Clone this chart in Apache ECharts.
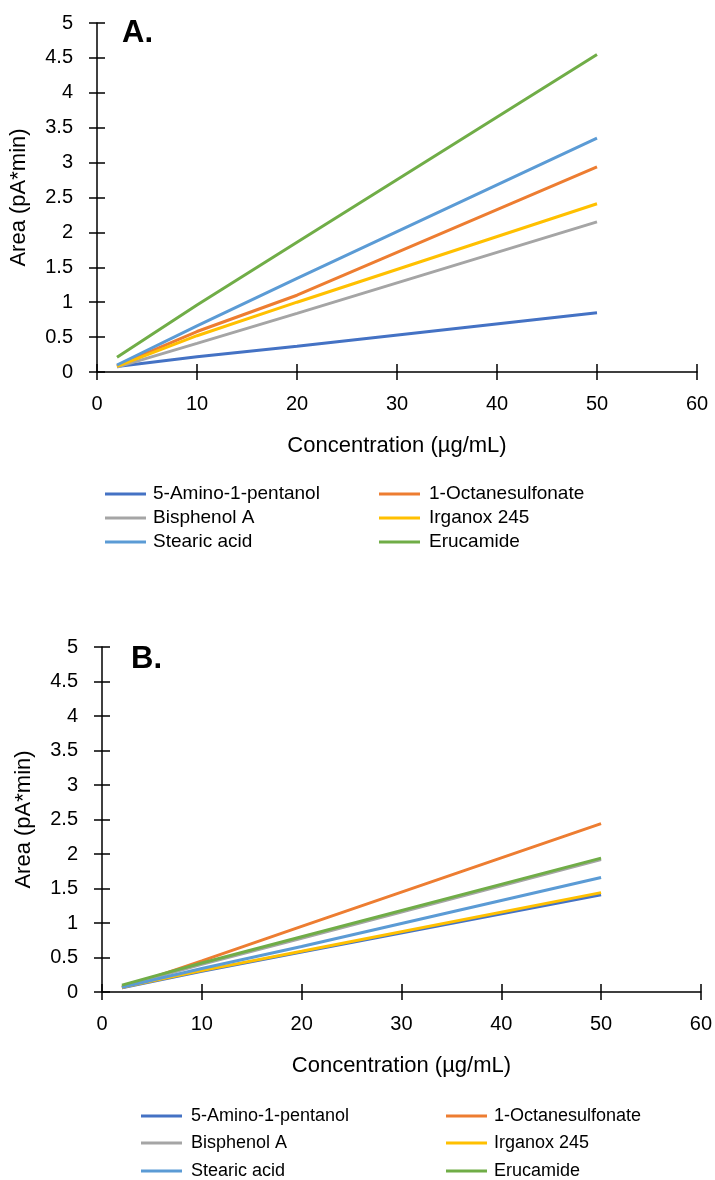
<!DOCTYPE html>
<html>
<head>
<meta charset="utf-8">
<script src="https://cdn.jsdelivr.net/npm/echarts@6/dist/echarts.min.js"></script>
<style>
  html, body { margin: 0; padding: 0; background: #fff; }
  #main { width: 715px; height: 1180px; }
</style>
</head>
<body>
<div id="main"></div>
<script>
// concentrations (µg/mL)
var conc = [2, 10, 20, 50];

var names = ['5-Amino-1-pentanol', '1-Octanesulfonate', 'Bisphenol A', 'Irganox 245', 'Stearic acid', 'Erucamide'];
var colors = ['#4472C4', '#ED7D31', '#A5A5A5', '#FFC000', '#5B9BD5', '#70AD47'];

// panel A
var aminoA = [0.08, 0.22, 0.37, 0.85];
var octaneA = [0.09, 0.58, 1.10, 2.94];
var bisphenolA = [0.07, 0.41, 0.84, 2.15];
var irganoxA = [0.08, 0.52, 1.00, 2.41];
var stearicA = [0.10, 0.66, 1.34, 3.35];
var erucamideA = [0.21, 0.96, 1.86, 4.55];

// panel B
var aminoB = [0.06, 0.30, 0.58, 1.41];
var octaneB = [0.06, 0.45, 0.95, 2.44];
var bisphenolB = [0.08, 0.40, 0.78, 1.92];
var irganoxB = [0.07, 0.31, 0.59, 1.44];
var stearicB = [0.07, 0.34, 0.66, 1.66];
var erucamideB = [0.10, 0.42, 0.80, 1.94];

var yTicks = [0, 5, 0.5];  // min, max, step
var xTicks = [0, 60, 10];

var FONT = 'Liberation Sans';
var chart = echarts.init(document.getElementById('main'));

function pairs(ys) {
  return conc.map(function (x, i) { return [x, ys[i]]; });
}

var tickStyle = { color: '#000', width: 1.5 };

// main axis + an extra one that only draws the inner half of the tick marks
function xAxes(grid) {
  return [{
    type: 'value', gridIndex: grid, position: 'bottom',
    min: xTicks[0], max: xTicks[1], interval: xTicks[2],
    name: 'Concentration (µg/mL)', nameLocation: 'middle', nameGap: 63,
    nameTextStyle: { fontFamily: FONT, fontSize: 22, color: '#000' },
    axisLine: { onZero: false, lineStyle: { color: '#000', width: 1.5 } },
    axisTick: { show: true, length: 8, lineStyle: tickStyle },
    axisLabel: { fontFamily: FONT, fontSize: 20, color: '#000', margin: 22 },
    splitLine: { show: false }
  }, {
    type: 'value', gridIndex: grid, position: 'bottom',
    min: xTicks[0], max: xTicks[1], interval: xTicks[2],
    axisLine: { show: true, onZero: false, lineStyle: { color: 'rgba(0,0,0,0)' } },
    axisTick: { show: true, inside: true, length: 8, lineStyle: tickStyle },
    axisLabel: { show: false }, splitLine: { show: false }
  }];
}

function yAxes(grid) {
  return [{
    type: 'value', gridIndex: grid, position: 'left',
    min: yTicks[0], max: yTicks[1], interval: yTicks[2],
    name: 'Area (pA*min)', nameLocation: 'middle', nameGap: 67, nameRotate: 90,
    nameTextStyle: { fontFamily: FONT, fontSize: 22, color: '#000' },
    axisLine: { show: true, onZero: false, lineStyle: { color: '#000', width: 1.5 } },
    axisTick: { show: true, length: 8, lineStyle: tickStyle },
    axisLabel: { fontFamily: FONT, fontSize: 20, color: '#000', margin: 24 },
    splitLine: { show: false }
  }, {
    type: 'value', gridIndex: grid, position: 'left',
    min: yTicks[0], max: yTicks[1], interval: yTicks[2],
    axisLine: { show: true, onZero: false, lineStyle: { color: 'rgba(0,0,0,0)' } },
    axisTick: { show: true, inside: true, length: 8, lineStyle: tickStyle },
    axisLabel: { show: false }, splitLine: { show: false }
  }];
}

function lineSeries(data, axisIdx) {
  return data.map(function (ys, i) {
    return {
      name: names[i], type: 'line', xAxisIndex: axisIdx, yAxisIndex: axisIdx,
      data: pairs(ys), symbol: 'none', silent: true,
      lineStyle: { width: 3, color: colors[i] }, itemStyle: { color: colors[i] }
    };
  });
}

// one legend per entry so every row sits where the reference puts it
function legendItem(name, left, midY, textGap, size) {
  return {
    data: [name], left: left, top: midY - 10, padding: 0,
    icon: 'rect', itemWidth: 41, itemHeight: 3,
    textStyle: { fontFamily: FONT, fontSize: size, color: '#000', lineHeight: 20, padding: [0, 0, 0, textGap] },
    selectedMode: false
  };
}

var seriesA = lineSeries([aminoA, octaneA, bisphenolA, irganoxA, stearicA, erucamideA], 0);
var seriesB = lineSeries([aminoB, octaneB, bisphenolB, irganoxB, stearicB, erucamideB], 2);

chart.setOption({
  animation: false,
  color: colors,
  grid: [
    { left: 97, width: 600, top: 23, height: 349 },
    { left: 102, width: 600, top: 647, height: 345 }
  ],
  xAxis: xAxes(0).concat(xAxes(1)),
  yAxis: yAxes(0).concat(yAxes(1)),
  legend: [
    legendItem(names[0], 105, 494, 2, 19),
    legendItem(names[2], 105, 518, 2, 19),
    legendItem(names[4], 105, 542, 2, 19),
    legendItem(names[1], 379, 494, 4, 19),
    legendItem(names[3], 379, 518, 4, 19),
    legendItem(names[5], 379, 542, 4, 19),
    legendItem(names[0], 141, 1116, 4, 18),
    legendItem(names[2], 141, 1143, 4, 18),
    legendItem(names[4], 141, 1171, 4, 18),
    legendItem(names[1], 446, 1116, 2, 18),
    legendItem(names[3], 446, 1143, 2, 18),
    legendItem(names[5], 446, 1171, 2, 18)
  ],
  graphic: [
    { type: 'text', left: 122, top: 18, style: { text: 'A.', font: 'bold 31px "Liberation Sans"', fill: '#000' } },
    { type: 'text', left: 131, top: 644, style: { text: 'B.', font: 'bold 31px "Liberation Sans"', fill: '#000' } }
  ],
  series: seriesA.concat(seriesB)
});
</script>
</body>
</html>
